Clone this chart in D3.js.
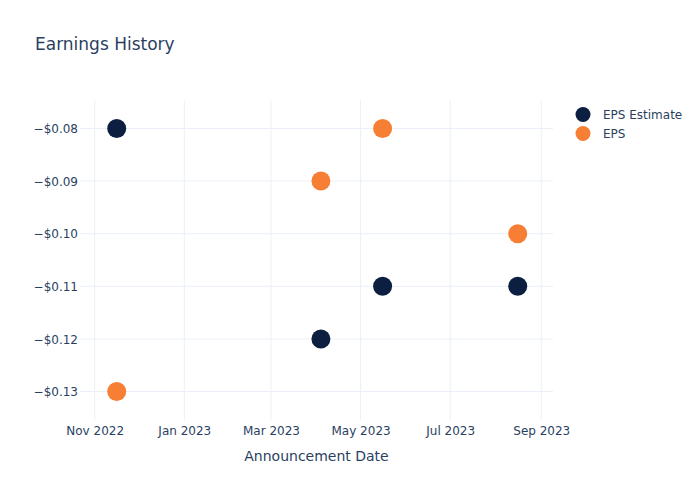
<!DOCTYPE html>
<html><head><meta charset="utf-8">
<script src="https://cdn.jsdelivr.net/npm/d3@7"></script>
<style>body{margin:0;background:#fff}text{font-family:"DejaVu Sans",Verdana,Arial,sans-serif}</style>
</head><body><svg id="c" width="700" height="500"></svg>
<script>
const dates = ["2022-11-16","2023-04-04","2023-05-16","2023-08-16"];
const epsEstimate = [-0.08,-0.12,-0.11,-0.11];
const eps = [-0.13,-0.09,-0.08,-0.10];
const yTicks = [-0.08,-0.09,-0.10,-0.11,-0.12,-0.13];
const xTicks = ["2022-11-01","2023-01-01","2023-03-01","2023-05-01","2023-07-01","2023-09-01"];
const seriesNames = ["EPS Estimate","EPS"];
const colors = ["#0c1f41","#f67f35"];

const parse = d3.utcParse("%Y-%m-%d");
const svg = d3.select("#c");
const L=80,R=553,T=100.5,B=420.5;
const x = d3.scaleUtc().domain([parse("2022-10-22"),parse("2023-09-09")]).range([L,R]);
const y = d3.scaleLinear().domain([-0.13551,-0.07468]).range([B,T]);
const txt="#2a3f5f", grid="#ebf0f8";

svg.append("g").selectAll("line").data(yTicks).join("line")
 .attr("x1",L).attr("x2",R).attr("y1",d=>y(d)).attr("y2",d=>y(d)).attr("stroke",grid);
svg.append("g").selectAll("line").data(xTicks).join("line")
 .attr("x1",d=>x(parse(d))).attr("x2",d=>x(parse(d))).attr("y1",T).attr("y2",B).attr("stroke",grid);

const fmtY = d => "\u2212$" + Math.abs(d).toFixed(2);
const yAxis = svg.append("g").attr("transform",`translate(${L},0)`)
 .call(d3.axisLeft(y).tickValues(yTicks).tickFormat(fmtY).tickSize(0).tickPadding(2));
yAxis.select(".domain").remove();
yAxis.selectAll("text").attr("fill",txt).attr("font-size",12).attr("dy","0.35em");

const fmtX = d3.utcFormat("%b %Y");
const xAxis = svg.append("g").attr("transform",`translate(0,${B})`)
 .call(d3.axisBottom(x).tickValues(xTicks.map(parse)).tickFormat(fmtX).tickSize(0).tickPadding(6));
xAxis.select(".domain").remove();
xAxis.selectAll("text").attr("fill",txt).attr("font-size",12);

svg.append("text").attr("x",35).attr("y",50).attr("fill",txt).attr("font-size",17).text("Earnings History");
svg.append("text").attr("x",(L+R)/2).attr("y",461).attr("text-anchor","middle").attr("fill",txt).attr("font-size",14).text("Announcement Date");

[epsEstimate,eps].forEach((vals,i)=>{
 svg.append("g").selectAll("circle").data(vals).join("circle")
  .attr("cx",(d,j)=>x(parse(dates[j]))).attr("cy",d=>y(d)).attr("r",9.5).attr("fill",colors[i]);
});

const lg = svg.append("g");
seriesNames.forEach((n,i)=>{
 lg.append("circle").attr("cx",583).attr("cy",114.5+i*19).attr("r",7.5).attr("fill",colors[i]);
 lg.append("text").attr("x",603).attr("y",114.5+i*19).attr("dy","0.35em").attr("fill",txt).attr("font-size",12).text(n);
});
</script></body></html>
